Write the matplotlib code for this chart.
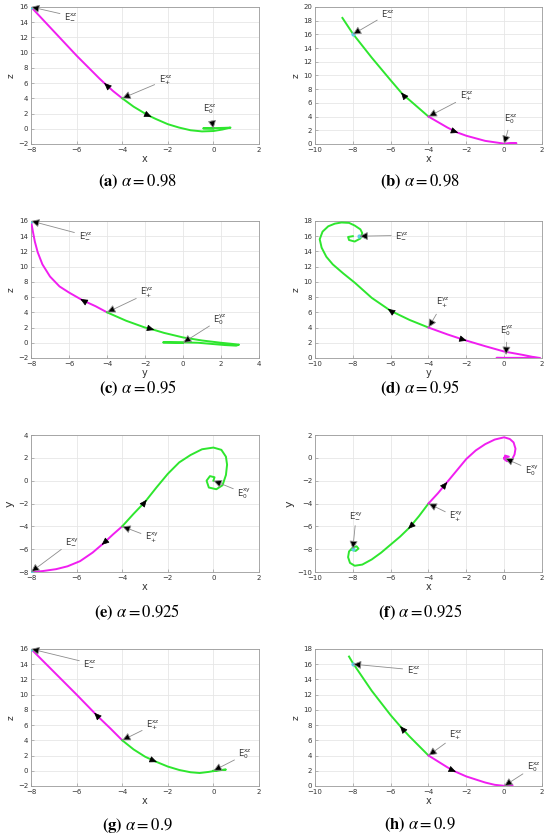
import matplotlib
matplotlib.use("Agg")
import matplotlib.pyplot as plt

MAG = "#f01ef0"
GRN = "#2ee62e"

# ---- (a) alpha = 0.98, x-z ----
a_mag_x = [-4, -4.4, -4.75, -5, -6, -7, -8]
a_mag_y = [4, 4.95, 5.9, 6.6, 9.6, 12.8, 16]
a_grn_x = [-4, -3.5, -3, -2.75, -2.5, -2, -1.5, -1, -0.5, 0, 0.4, 0.75, 0.5, 0, -0.45, 0]
a_grn_y = [4, 2.9, 2.0, 1.6, 1.25, 0.6, 0.15, -0.2, -0.35, -0.3, -0.1, 0.15, 0.12, 0.08, 0.05, 0]

# ---- (b) alpha = 0.98, x-z ----
b_grn_x = [-4, -5, -5.35, -6, -7, -8, -8.55]
b_grn_y = [4, 6.4, 7.2, 9.3, 12.6, 16.1, 18.4]
b_mag_x = [-4, -3, -2.5, -2, -1, 0, 0.65, 0.3, 0]
b_mag_y = [4, 2.4, 1.7, 1.2, 0.45, 0.05, 0.1, 0.06, 0]

# ---- (c) alpha = 0.95, y-z ----
c_mag_x = [-4, -4.6, -5.3, -6, -6.5, -7, -7.4, -7.65, -7.8, -7.9, -8]
c_mag_y = [4, 4.8, 5.6, 6.6, 7.4, 8.7, 10.3, 11.9, 13.3, 14.6, 16]
c_grn_x = [-4, -3, -2, -1.6, -1, 0, 1, 2, 2.6, 2.95, 2.8, 2.2, 1.5, 0.8, 0, -0.6, -1.05, -0.5, 0]
c_grn_y = [4, 2.9, 2.0, 1.75, 1.3, 0.7, 0.3, 0.0, -0.15, -0.25, -0.38, -0.3, -0.15, 0.0, 0.05, 0.05, 0.05, 0.02, 0]

# ---- (d) alpha = 0.95, y-z ----
d_grn_x = [-4, -5, -6, -7, -7.9, -8.5, -9.06, -9.4, -9.65, -9.75, -9.6, -9.3, -8.95, -8.6, -8.2,
           -7.9, -7.6, -7.5, -7.6, -7.9, -8.2, -8.25, -8]
d_grn_y = [4, 5.0, 6.2, 7.9, 9.9, 11.1, 12.3, 13.3, 14.5, 15.6, 16.6, 17.3, 17.65, 17.8, 17.75,
           17.4, 16.9, 16.4, 15.7, 15.3, 15.5, 15.9, 16]
d_mag_x = [-4, -3, -2.15, -1, 0, 1, 1.5, 1.9, 1.2, 0.5, -0.4, 0]
d_mag_y = [4, 3.1, 2.4, 1.55, 0.85, 0.4, 0.15, 0.0, 0.02, 0.02, 0.02, 0]

# ---- (e) alpha = 0.925, x-y ----
e_mag_x = [-4, -4.4, -4.83, -5.3, -5.85, -6.4, -6.9, -7.5, -8]
e_mag_y = [-4, -4.7, -5.5, -6.3, -7.05, -7.5, -7.75, -7.92, -8]
e_grn_x = [-4, -3.5, -3, -2.5, -2, -1.5, -1, -0.5, 0, 0.35, 0.55, 0.6, 0.55, 0.4, 0.13, -0.2, -0.3, -0.15, 0.05, 0]
e_grn_y = [-4, -2.9, -1.86, -0.6, 0.6, 1.6, 2.25, 2.75, 2.9, 2.7, 2.1, 1.4, 0.5, -0.4, -0.75, -0.6, 0.0, 0.4, 0.3, 0]

# ---- (f) alpha = 0.925, x-y ----
f_grn_x = [-4, -4.5, -5, -5.5, -6, -6.5, -7, -7.5, -7.9, -8.15, -8.25, -8.2, -8, -7.8, -7.7, -7.85, -8.05, -8]
f_grn_y = [-4, -5.1, -6.1, -6.9, -7.6, -8.3, -8.9, -9.35, -9.45, -9.2, -8.7, -8.2, -7.85, -7.75, -7.95, -8.15, -8.05, -8]
f_mag_x = [-4, -3.5, -3.1, -2.5, -2, -1.5, -1, -0.5, 0, 0.3, 0.5, 0.6, 0.55, 0.4, 0.15, 0, 0.05, 0.25, 0]
f_mag_y = [-4, -3.1, -2.3, -1.1, -0.1, 0.65, 1.2, 1.6, 1.8, 1.65, 1.35, 0.8, 0.3, -0.2, -0.3, -0.1, 0.2, 0.1, 0]

# ---- (g) alpha = 0.9, x-z ----
g_mag_x = [-4, -4.5, -5.09, -6, -7, -8]
g_mag_y = [4, 5.5, 7.2, 10.0, 13.0, 16]
g_grn_x = [-4, -3.5, -3, -2.56, -2, -1.5, -1, -0.6, -0.2, 0.2, 0.55, 0.3, 0]
g_grn_y = [4, 2.8, 1.85, 1.24, 0.55, 0.1, -0.2, -0.3, -0.15, 0.05, 0.15, 0.08, 0]

# ---- (h) alpha = 0.9, x-z ----
h_grn_x = [-4, -5, -5.41, -6, -7, -8, -8.2]
h_grn_y = [4, 6.5, 7.6, 9.3, 12.5, 16.15, 17.0]
h_mag_x = [-4, -3, -2.64, -2, -1, -0.5, 0, 0.45, 0]
h_mag_y = [4, 2.45, 1.95, 1.25, 0.45, 0.15, 0.02, 0.1, 0]

# equilibrium points, label text positions (-, +, 0)
a_eq = [(-8, 16), (-4, 4), (0, 0)];      a_txt = [(-6.55, 14.8), (-2.4, 6.4), (-0.45, 2.5)]
b_eq = [(-8, 16), (-4, 4), (0, 0)];      b_txt = [(-6.5, 19.0), (-2.35, 6.9), (0.0, 3.6)]
c_eq = [(-8, 16), (-4, 4), (0, 0)];      c_txt = [(-5.5, 14.1), (-2.25, 6.5), (1.6, 3.1)]
d_eq = [(-7.65, 16), (-4, 4), (0.1, 0.4)]; d_txt = [(-5.75, 16.1), (-3.6, 7.2), (-0.2, 3.6)]
e_eq = [(-8, -8), (-4, -4), (0, 0)];     e_txt = [(-6.5, -5.3), (-3.0, -5.0), (1.05, -1.1)]
f_eq = [(-8, -8), (-4, -4), (0.05, -0.05)]; f_txt = [(-8.2, -5.1), (-2.9, -5.2), (1.1, -1.1)]
g_eq = [(-8, 16), (-4, 4), (0, 0)];      g_txt = [(-5.7, 14.1), (-2.95, 6.0), (1.1, 2.15)]
h_eq = [(-8, 16), (-4, 4), (0, 0)];      h_txt = [(-5.15, 15.25), (-2.9, 6.65), (1.2, 2.5)]

panels = [
    dict(tag="a", alpha="0.98", xl="x", yl="z", sup="xz", xlim=(-8, 2), ylim=(-2, 16),
         curves=[(a_mag_x, a_mag_y, MAG, 2), (a_grn_x, a_grn_y, GRN, 3)], eq=a_eq, txt=a_txt),
    dict(tag="b", alpha="0.98", xl="x", yl="z", sup="xz", xlim=(-10, 2), ylim=(0, 20),
         curves=[(b_grn_x, b_grn_y, GRN, 2), (b_mag_x, b_mag_y, MAG, 2)], eq=b_eq, txt=b_txt),
    dict(tag="c", alpha="0.95", xl="y", yl="z", sup="yz", xlim=(-8, 4), ylim=(-2, 16),
         curves=[(c_mag_x, c_mag_y, MAG, 2), (c_grn_x, c_grn_y, GRN, 3)], eq=c_eq, txt=c_txt),
    dict(tag="d", alpha="0.95", xl="y", yl="z", sup="yz", xlim=(-10, 2), ylim=(0, 18),
         curves=[(d_grn_x, d_grn_y, GRN, 2), (d_mag_x, d_mag_y, MAG, 2)], eq=d_eq, txt=d_txt),
    dict(tag="e", alpha="0.925", xl="x", yl="y", sup="xy", xlim=(-8, 2), ylim=(-8, 4),
         curves=[(e_mag_x, e_mag_y, MAG, 2), (e_grn_x, e_grn_y, GRN, 2)], eq=e_eq, txt=e_txt),
    dict(tag="f", alpha="0.925", xl="x", yl="y", sup="xy", xlim=(-10, 2), ylim=(-10, 2),
         curves=[(f_grn_x, f_grn_y, GRN, 2), (f_mag_x, f_mag_y, MAG, 2)], eq=f_eq, txt=f_txt),
    dict(tag="g", alpha="0.9", xl="x", yl="z", sup="xz", xlim=(-8, 2), ylim=(-2, 16),
         curves=[(g_mag_x, g_mag_y, MAG, 2), (g_grn_x, g_grn_y, GRN, 3)], eq=g_eq, txt=g_txt),
    dict(tag="h", alpha="0.9", xl="x", yl="z", sup="xz", xlim=(-10, 2), ylim=(0, 18),
         curves=[(h_grn_x, h_grn_y, GRN, 2), (h_mag_x, h_mag_y, MAG, 2)], eq=h_eq, txt=h_txt),
]

fig = plt.figure(figsize=(5.5, 8.38), dpi=100)
lefts = [0.0564, 0.5727]
widths = [0.4145, 0.4127]
bottoms = [0.8282, 0.5728, 0.3174, 0.0621]
cap_y = [0.7828, 0.5370, 0.2697, 0.0155]
cap_x = [0.25, 0.7636]
subs = ["-", "+", "0"]

for i, p in enumerate(panels):
    r, c = divmod(i, 2)
    ax = fig.add_axes([lefts[c], bottoms[r], widths[c], 0.1635])
    ax.set_xlim(*p["xlim"])
    ax.set_ylim(*p["ylim"])
    ax.set_xticks(range(p["xlim"][0], p["xlim"][1] + 1, 2))
    ax.set_yticks(range(p["ylim"][0], p["ylim"][1] + 1, 2))
    ax.grid(True, color="#e6e6e6", lw=0.6)
    ax.set_axisbelow(True)
    for s in ax.spines.values():
        s.set_color("#9a9a9a")
        s.set_linewidth(0.6)
    ax.tick_params(direction="in", length=2, width=0.5, labelsize=5, pad=2,
                   colors="#9a9a9a", labelcolor="#333333")
    ysize = 8 if p["yl"] == "y" else 6.5
    ax.set_xlabel(p["xl"], fontsize=7, labelpad=1, color="#333333")
    ax.set_ylabel(p["yl"], fontsize=ysize, labelpad=2, color="#333333")

    for xs, ys, col, k in p["curves"]:
        ax.plot(xs, ys, color=col, lw=1.4, zorder=3)
        # direction arrow sits on curve point k, pointing to k+1
        x0, y0 = xs[k], ys[k]
        x1, y1 = xs[k + 1], ys[k + 1]
        ax.annotate("", xy=(x0 + 0.15 * (x1 - x0), y0 + 0.15 * (y1 - y0)), xytext=(x0, y0),
                    arrowprops=dict(arrowstyle="-|>,head_length=0.5,head_width=0.22",
                                    color="black", lw=0.5, mutation_scale=9,
                                    shrinkA=0, shrinkB=0), zorder=5)

    ax.plot(*p["eq"][0], marker="o", ms=2, color="#5ccfe6", zorder=4)
    for (ex, ey), (tx, ty), sb in zip(p["eq"], p["txt"], subs):
        ax.annotate(r"$\mathregular{E^{%s}_{%s}}$" % (p["sup"], sb), xy=(ex, ey), xytext=(tx, ty),
                    fontsize=6, color="#333333", ha="left", va="center",
                    arrowprops=dict(arrowstyle="-|>,head_length=0.5,head_width=0.25",
                                    ec="#8c8c8c", fc="black", lw=0.6,
                                    mutation_scale=10, shrinkA=1, shrinkB=0), zorder=6)

    fig.text(cap_x[c], cap_y[r], r"$\mathbf{(%s)}\ \alpha = %s$" % (p["tag"], p["alpha"]),
             ha="center", va="center", fontsize=12, math_fontfamily="stix")

fig.savefig("out.png", dpi=100)
